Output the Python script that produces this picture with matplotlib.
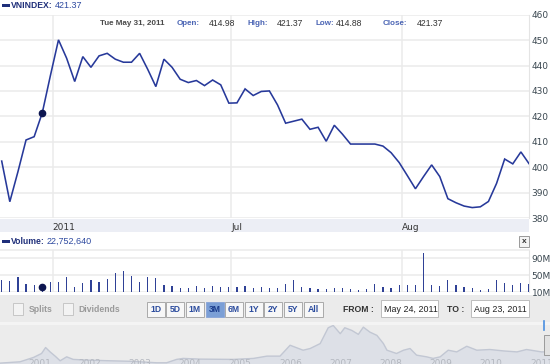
import matplotlib
matplotlib.use("Agg")
import matplotlib.pyplot as plt
from matplotlib.patches import Rectangle

# ---------------- data ----------------
close = [402.4, 386.4, 398.2, 410.7, 412.0, 421.37, 436.0, 450.1, 442.9, 433.7,
         443.5, 439.3, 443.8, 444.8, 442.5, 441.3, 441.3, 444.8, 438.5, 431.7,
         442.5, 439.3, 434.6, 433.3, 434.1, 432.1, 434.3, 432.4, 425.2, 425.3,
         430.8, 428.2, 429.8, 430.0, 424.5, 417.3, 418.1, 418.9, 414.9, 415.7,
         410.2, 416.5, 413.0, 409.1, 409.1, 409.1, 409.1, 408.3, 405.7, 401.8,
         396.7, 391.5, 396.3, 400.9, 396.3, 387.6, 386.0, 384.7, 384.1, 384.4,
         386.5, 393.6, 403.2, 401.3, 406.0, 401.4]
volume_m = [38.1, 35.7, 45.3, 28.5, 26.1, 22.75, 33.3, 33.3, 45.3, 22.0,
            30.9, 38.1, 33.3, 40.5, 56.3, 61.1, 48.4, 33.3, 45.3, 43.6,
            27.5, 24.4, 20.4, 20.4, 24.4, 19.6, 23.7, 22.0, 22.0, 22.0,
            23.7, 20.4, 22.0, 20.4, 20.4, 29.9, 39.5, 22.0, 19.6, 18.0,
            17.2, 19.6, 19.6, 18.0, 15.6, 18.0, 28.5, 22.8, 19.6, 27.5,
            27.5, 26.1, 101.8, 26.1, 24.4, 39.5, 26.1, 22.8, 19.6, 14.9,
            18.0, 39.5, 30.9, 27.5, 30.9, 29.0]
x_tick_pos = [6.3, 28.3, 49.3]          # month starts (Jun 1, Jul 1, Aug 1)
x_tick_labels = ["2011", "Jul", "Aug"]
price_ticks = [380, 390, 400, 410, 420, 430, 440, 450, 460]
vol_ticks = [10, 50, 90]
vol_tick_labels = ["10M", "50M", "90M"]
hover_idx = 5
symbol = "VNINDEX"
info_date = "Tue May 31, 2011"
info_open, info_high, info_low, info_close = "414.98", "421.37", "414.88", "421.37"
hover_volume = "22,752,640"
range_buttons = ["1D", "5D", "1M", "3M", "6M", "1Y", "2Y", "5Y", "All"]
active_range = "3M"
from_date = "May 24, 2011"
to_date = "Aug 23, 2011"
nav_years = [2000.44, 2000.84, 2001.11, 2001.27, 2001.35, 2001.44, 2001.54, 2001.64,
             2001.77, 2001.90, 2002.17, 2002.63, 2003.10, 2003.56, 2003.76, 2003.96,
             2004.09, 2004.43, 2005.09, 2005.49, 2005.76, 2006.02, 2006.22, 2006.48,
             2006.62, 2006.82, 2006.98, 2007.08, 2007.22, 2007.31, 2007.45, 2007.58,
             2007.68, 2007.81, 2007.95, 2008.08, 2008.15, 2008.34, 2008.48, 2008.61,
             2008.74, 2008.94, 2009.07, 2009.21, 2009.37, 2009.54, 2009.74, 2009.94,
             2010.20, 2010.47, 2010.74, 2010.93, 2011.23, 2011.50]
nav_values = [100, 138, 262, 374, 543, 419, 299, 167,
              279, 206, 186, 167, 150, 110, 110, 206,
              234, 214, 206, 234, 299, 299, 608, 467,
              515, 655, 1105, 1169, 936, 1105, 1029, 917,
              1122, 981, 888, 655, 467, 374, 467, 515,
              327, 279, 234, 279, 467, 419, 579, 467,
              487, 447, 419, 487, 419, 420]
nav_labels = ["2001", "2002", "2003", "2004", "2005", "2006",
              "2007", "2008", "2009", "2010", "2011"]

# ---------------- layout helpers ----------------
W, H = 550, 364
fig = plt.figure(figsize=(W / 100, H / 100), dpi=100)
fig.patch.set_facecolor("white")


def ax_px(x0, y0, x1, y1, z=1):
    return fig.add_axes([x0 / W, 1 - y1 / H, (x1 - x0) / W, (y1 - y0) / H], zorder=z)


BOLD = ["Liberation Sans", "DejaVu Sans"]
TICK_FONT = "DejaVu Sans"
NAVY = "#1f2f7a"
LINE = "#27399a"
GRID = "#ebebeb"
TICKC = "#3a4750"

# background layer
bg = ax_px(0, 0, W, H, z=0)
bg.set_xlim(0, W)
bg.set_ylim(H, 0)
bg.axis("off")
bg.add_patch(Rectangle((0, 218.5), 529, 13.5, color="#eceef5", lw=0))
bg.add_patch(Rectangle((0, 294.5), W, 27, color="#ebebeb", lw=0))
bg.add_patch(Rectangle((0, 321.5), W, 3, color="#f4f4f4", lw=0))
bg.add_patch(Rectangle((0, 324.5), W, 40, color="#ececec", lw=0))

# ---------------- main price chart ----------------
ax = ax_px(0, 14.7, 529, 218, z=2)
idx = list(range(len(close)))
ax.set_xlim(-0.21, 65.0)
ax.set_ylim(380, 460)
ax.set_yticks(price_ticks)
ax.set_xticks(x_tick_pos)
ax.set_xticklabels(x_tick_labels, ha="left")
ax.grid(True, color=GRID, lw=1.1)
ax.set_axisbelow(True)
ax.yaxis.tick_right()
ax.tick_params(axis="y", length=0, pad=2, labelsize=6.5, labelcolor=TICKC)
ax.tick_params(axis="x", length=0, pad=3.5, labelsize=6.5, labelcolor="#333333")
for lab in ax.get_xticklabels():
    lab.set_fontfamily(TICK_FONT)
for s in ["top", "left", "bottom"]:
    ax.spines[s].set_visible(False)
ax.spines["right"].set_color("#e4e4e4")
ax.spines["right"].set_linewidth(0.8)
ax.plot(idx, close, color=LINE, lw=1.15, solid_joinstyle="miter", zorder=3)
ax.plot([hover_idx], [close[hover_idx]], "o", color="#0d1650", ms=4.5, zorder=4)

# ---------------- volume chart ----------------
av = ax_px(0, 250, 529, 292, z=2)
av.set_xlim(-0.21, 65.0)
av.set_ylim(10, 110)
av.bar(idx, volume_m, width=0.15, color="#2f4196", zorder=3)
av.plot([hover_idx], [volume_m[hover_idx]], "o", color="#0d1650", ms=4.5, zorder=4)
av.set_yticks(vol_ticks)
av.set_yticklabels(vol_tick_labels)
av.set_xticks(x_tick_pos)
av.set_xticklabels([])
av.grid(True, color=GRID, lw=1.1)
av.set_axisbelow(True)
av.yaxis.tick_right()
av.tick_params(axis="y", length=0, pad=2, labelsize=6.5, labelcolor=TICKC)
av.tick_params(axis="x", length=0)
for s in ["left", "bottom"]:
    av.spines[s].set_visible(False)
av.spines["top"].set_color(GRID)
av.spines["top"].set_linewidth(1.1)
av.spines["right"].set_color("#e4e4e4")
av.spines["right"].set_linewidth(0.8)

# ---------------- navigator ----------------
an = ax_px(0, 324.5, W, 370, z=1)
an.set_xlim(2000.442, 2011.398)
an.set_ylim(-95, 1197)
an.axis("off")
an.fill_between(nav_years, nav_values, -95, color="#dde0e7", lw=0)
an.plot(nav_years, nav_values, color="#c2c7d3", lw=1.0)
for k, lab in enumerate(nav_labels):
    an.text(2001 + k, 100, lab, ha="left", va="center", fontsize=6.5,
            color="#b3b7bf", family=TICK_FONT, zorder=5)

# ---------------- overlay texts / widgets ----------------
ov = ax_px(0, 0, W, H, z=10)
ov.set_xlim(0, W)
ov.set_ylim(H, 0)
ov.axis("off")
ov.patch.set_alpha(0)

# header
ov.add_patch(Rectangle((1.8, 4.2), 8, 3, color=NAVY, lw=0))
ov.text(10.8, 6, symbol + ":", fontsize=6.2, fontweight="bold", color=NAVY,
        family=BOLD, va="center", ha="left")
ov.text(54.5, 6, info_close, fontsize=6.5, color="#2e4aa0", family=BOLD,
        va="center", ha="left")

# info line
iy = 23.3
ov.text(99.5, iy, info_date, fontsize=5.8, fontweight="bold", color="#4a4a4a",
        family=BOLD, va="center")
for xl, lab, xv, val in [(177, "Open:", 209, info_open), (248, "High:", 277, info_high),
                         (316, "Low:", 336, info_low), (382.6, "Close:", 417, info_close)]:
    ov.text(xl, iy, lab, fontsize=5.8, fontweight="bold", color="#4a64b4",
            family=BOLD, va="center")
    ov.text(xv, iy, val, fontsize=6.2, color="#333333", family=BOLD, va="center")

# volume header
ov.add_patch(Rectangle((1.8, 239.5), 8, 3, color=NAVY, lw=0))
ov.text(10.6, 241, "Volume:", fontsize=6.2, fontweight="bold", color=NAVY,
        family=BOLD, va="center")
ov.text(47, 241, hover_volume, fontsize=6.5, color="#2e4aa0", family=BOLD,
        va="center")
# close box
ov.add_patch(Rectangle((519, 236), 10, 10.5, facecolor="#f4f4f4",
                       edgecolor="#9a9a9a", lw=0.7))
ov.text(524, 241.5, "x", fontsize=6, fontweight="bold", color="#333333",
        family=BOLD, ha="center", va="center")

# checkboxes
for bx, tx, lab in [(13.3, 29, "Splits"), (62.7, 78.3, "Dividends")]:
    ov.add_patch(Rectangle((bx, 302.7), 10, 12.3, facecolor="#f3f3f3",
                           edgecolor="#c6c6c6", lw=0.7))
    ov.text(tx, 309, lab, fontsize=6.2, fontweight="bold", color="#9a9a9a",
            family=BOLD, va="center")

# range buttons
for k, lab in enumerate(range_buttons):
    x0 = 146.7 + k * 19.6
    w = 18.0 if lab != "All" else 19.5
    active = lab == active_range
    ov.add_patch(Rectangle((x0, 301.7), w, 15, facecolor="#7b9fd6" if active else "#f7f7f7",
                           edgecolor="#8da8d8" if active else "#a9a9a9", lw=0.7))
    ov.text(x0 + w / 2, 309.4, lab, fontsize=6.2, fontweight="bold",
            color="#1b3c8c" if active else "#2d4d9e", family=BOLD,
            ha="center", va="center")

# date range
ov.text(343, 309, "FROM :", fontsize=6.2, fontweight="bold", color="#333333",
        family=BOLD, va="center")
ov.add_patch(Rectangle((381, 300.3), 57, 16.7, facecolor="white",
                       edgecolor="#bdbdbd", lw=0.7))
ov.text(383.5, 309, from_date, fontsize=6.4, color="#222222", family=BOLD,
        va="center")
ov.text(447, 309, "TO :", fontsize=6.2, fontweight="bold", color="#333333",
        family=BOLD, va="center")
ov.add_patch(Rectangle((471, 300.3), 58, 16.7, facecolor="white",
                       edgecolor="#bdbdbd", lw=0.7))
ov.text(473.5, 309, to_date, fontsize=6.4, color="#222222", family=BOLD,
        va="center")

# navigator handle
ov.plot([544, 544], [320.5, 330], color="#4a8fe0", lw=1.2)
ov.add_patch(Rectangle((543.5, 335), 7, 20, facecolor="#e2e2e2",
                       edgecolor="#9a9a9a", lw=0.7))

fig.savefig("out.png", dpi=100)
